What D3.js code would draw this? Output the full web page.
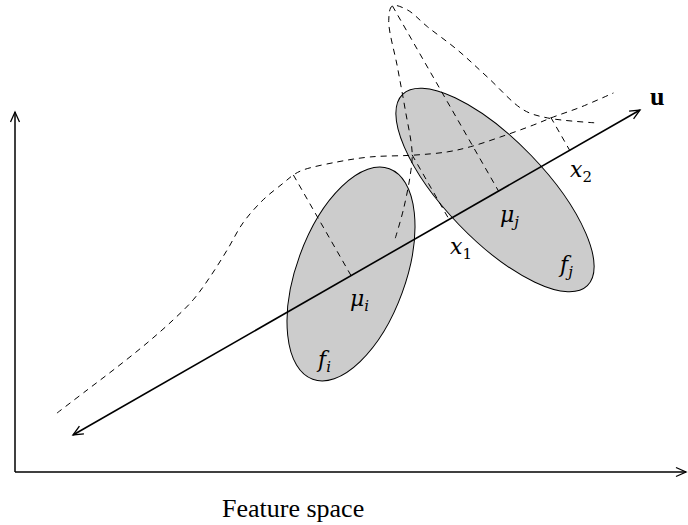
<html>
<head>
<meta charset="utf-8">
<title>Projection onto u</title>
<style>
  body { margin: 0; background: #fff; }
  text { font-family: "Liberation Serif", "Times New Roman", "DejaVu Serif", serif; }
  .math { font-style: italic; font-size: 22px; }
</style>
<script src="https://d3js.org/d3.v7.min.js"></script>
</head>
<body>
<svg width="688" height="525"></svg>
<script>
// feature space units (1 unit = 50px)
var axisX = [0, 13.42],
    axisY = [0, 7.2];

// projection direction u: start and end point
var uStart = [1.16, 0.74],
    uEnd = [12.5, 7.24];

// class ellipses: center x, center y, semi-major, semi-minor, tilt (deg, clockwise from vertical)
var ellipseNames = ["i", "j"],
    ellipseCx = [6.72, 9.6],
    ellipseCy = [3.96, 5.64],
    ellipseMajor = [2.24, 2.66],
    ellipseMinor = [1.09, 1.0],
    ellipseTilt = [20, -44];

// projected densities along u: t = position along u, h = height above u
var densityIT = [-0.06, 0.69, 1.44, 2.2, 2.88, 3.43, 3.95, 4.52, 5.06, 5.64, 6.16, 6.41, 6.63, 7.3, 7.92, 8.69, 9.31, 9.76, 10.38, 11.07, 11.5, 12.07, 12.78],
    densityIH = [0.54, 0.64, 0.74, 0.86, 1.0, 1.15, 1.38, 1.68, 1.99, 2.19, 2.28, 2.32, 2.31, 2.11, 1.87, 1.47, 1.19, 1.05, 0.92, 0.8, 0.74, 0.64, 0.56];
var densityJT = [7.55, 7.97, 8.44, 8.69, 9.0, 9.29, 9.6, 9.81, 10.03, 10.21, 10.5, 10.75, 11.05, 11.39, 12.17],
    densityJH = [0.21, 0.62, 1.16, 1.52, 2.34, 3.16, 4.05, 4.27, 4.05, 3.56, 2.86, 2.09, 1.16, 0.78, 0.22];

// perpendicular drop lines: means and the two crossing points x1, x2
var dropT = [6.41, 9.81, 8.67, 11.45],
    dropH = [2.32, 4.27, 1.49, 0.76];

var svg = d3.select("svg");

var x = d3.scaleLinear().domain(axisX).range([15, 686]),
    y = d3.scaleLinear().domain(axisY).range([472, 112]);

var ulen = Math.hypot(uEnd[0] - uStart[0], uEnd[1] - uStart[1]),
    e = [(uEnd[0] - uStart[0]) / ulen, (uEnd[1] - uStart[1]) / ulen],
    n = [-e[1], e[0]];

function onU(t, h) {
  return [x(uStart[0] + t * e[0] + h * n[0]), y(uStart[1] + t * e[1] + h * n[1])];
}

var defs = svg.append("defs");
defs.append("marker")
    .attr("id", "arrow")
    .attr("viewBox", "-12 -6 14 12")
    .attr("refX", 0).attr("refY", 0)
    .attr("markerWidth", 14).attr("markerHeight", 12)
    .attr("markerUnits", "userSpaceOnUse")
    .attr("orient", "auto-start-reverse")
  .append("path")
    .attr("d", "M-10,-4.5L0,0L-10,4.5")
    .attr("fill", "none")
    .attr("stroke", "#000")
    .attr("stroke-width", 1.3);

// axes
svg.append("line")
    .attr("x1", x(0)).attr("y1", y(0))
    .attr("x2", x(0)).attr("y2", y(axisY[1]))
    .attr("stroke", "#000").attr("stroke-width", 1.5)
    .attr("marker-end", "url(#arrow)");
svg.append("line")
    .attr("x1", x(0)).attr("y1", y(0))
    .attr("x2", x(axisX[1])).attr("y2", y(0))
    .attr("stroke", "#000").attr("stroke-width", 1.5)
    .attr("marker-end", "url(#arrow)");

// ellipses
svg.selectAll(".ell")
    .data(ellipseNames)
    .enter().append("ellipse")
    .attr("class", "ell")
    .attr("cx", (d, i) => x(ellipseCx[i]))
    .attr("cy", (d, i) => y(ellipseCy[i]))
    .attr("rx", (d, i) => x(ellipseMinor[i]) - x(0))
    .attr("ry", (d, i) => x(ellipseMajor[i]) - x(0))
    .attr("transform", (d, i) => `rotate(${ellipseTilt[i]},${x(ellipseCx[i])},${y(ellipseCy[i])})`)
    .attr("fill", "#cccccc")
    .attr("stroke", "#000")
    .attr("stroke-width", 1);

// dashed densities
var line = d3.line().curve(d3.curveCatmullRom.alpha(0.5));
var dashed = {fill: "none", stroke: "#000", "stroke-width": 1, "stroke-dasharray": "6,5"};

[[densityIT, densityIH], [densityJT, densityJH]].forEach(function(c) {
  var pts = c[0].map((t, i) => onU(t, c[1][i]));
  var p = svg.append("path").attr("d", line(pts));
  for (var k in dashed) p.attr(k, dashed[k]);
});

dropT.forEach(function(t, i) {
  var a = onU(t, dropH[i]), b = onU(t, 0);
  var l = svg.append("line")
      .attr("x1", a[0]).attr("y1", a[1])
      .attr("x2", b[0]).attr("y2", b[1]);
  for (var k in dashed) l.attr(k, dashed[k]);
});

// u direction
svg.append("line")
    .attr("x1", x(uStart[0])).attr("y1", y(uStart[1]))
    .attr("x2", x(uEnd[0])).attr("y2", y(uEnd[1]))
    .attr("stroke", "#000").attr("stroke-width", 1.6)
    .attr("marker-start", "url(#arrow)")
    .attr("marker-end", "url(#arrow)");

// labels
var serif = "'Liberation Serif', 'DejaVu Serif', serif",
    mathFont = "'DejaVu Serif', serif";
function mathLabel(px, py, base, sub) {
  var t = svg.append("text").attr("class", "math")
      .attr("font-family", mathFont)
      .attr("x", x(px)).attr("y", y(py));
  t.append("tspan").attr("font-family", mathFont).attr("font-style", "italic").text(base);
  t.append("tspan").attr("dy", 5).attr("font-size", "15px")
      .attr("font-family", mathFont)
      .attr("font-style", /\d/.test(sub) ? "normal" : "italic")
      .text(sub);
}
mathLabel(6.7, 3.32, "μ", "i");
mathLabel(6.06, 2.1, "f", "i");
mathLabel(9.7, 5.0, "μ", "j");
mathLabel(10.9, 4.0, "f", "j");
mathLabel(8.7, 4.36, "x", "1");
mathLabel(11.1, 5.9, "x", "2");

svg.append("text")
    .attr("x", x(12.7)).attr("y", y(7.34))
    .attr("font-family", serif)
    .attr("font-size", "26px").attr("font-weight", "bold")
    .text("u");

svg.append("text")
    .attr("x", x(4.14)).attr("y", y(-0.9))
    .attr("font-family", serif)
    .attr("font-size", "26px")
    .text("Feature space");
</script>
</body>
</html>
